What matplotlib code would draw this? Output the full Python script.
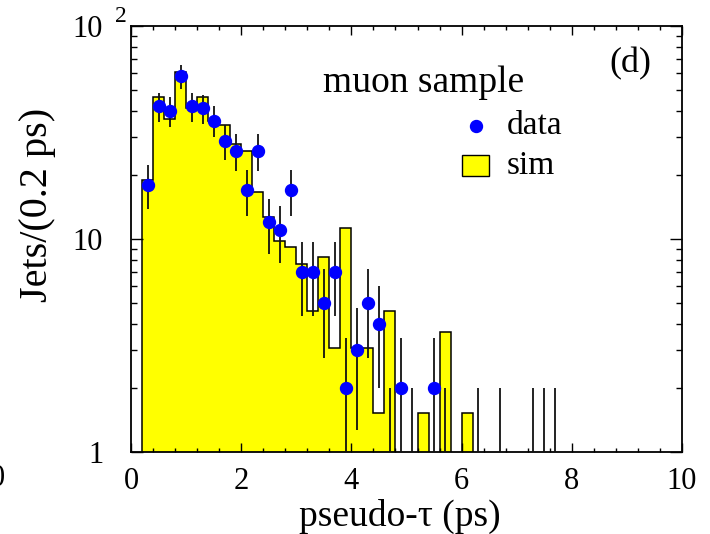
import numpy as np
import matplotlib
matplotlib.use("Agg")
import matplotlib.pyplot as plt
from matplotlib.lines import Line2D
from matplotlib.patches import Rectangle

plt.rcParams['font.family'] = ['Liberation Serif', 'DejaVu Serif']

# simulated histogram: bin edges every 0.2 ps starting at 0.2 ps
sim_edges = np.round(np.arange(0.2, 6.21, 0.2), 2)
sim_counts = [19.0, 46.3, 36.7, 61.0, 41.0, 46.3, 36.0, 34.2, 28.0, 25.8,
              16.6, 12.7, 9.8, 9.2, 7.6, 4.6, 8.2, 3.07, 11.3, 3.07,
              3.07, 1.53, 4.6, 0, 0, 1.53, 0, 3.65, 0, 1.53]

# data points (bin centres, counts)
data_x = [0.3, 0.5, 0.7, 0.9, 1.1, 1.3, 1.5, 1.7, 1.9, 2.1, 2.3, 2.5, 2.7,
          2.9, 3.1, 3.3, 3.5, 3.7, 3.9, 4.1, 4.3, 4.5, 4.7, 4.9, 5.1, 5.5,
          5.7, 6.3, 6.7, 7.3, 7.5, 7.7]
data_n = [18, 42, 40, 58, 42, 41, 36, 29, 26, 17, 26, 12, 11,
          17, 7, 7, 5, 7, 2, 3, 5, 4, 1, 2, 1, 2,
          1, 1, 1, 1, 1, 1]

x_ticks = [0, 2, 4, 6, 8, 10]
y_ticks = [1, 10, 100]
y_ticklabels = ['1', '10', '10']

W, H = 710, 534
fig = plt.figure(figsize=(W / 100, H / 100), dpi=100)


def fx(px):
    return px / W


def fy(py):
    return 1 - py / H


ax = fig.add_axes([fx(131), fy(452), fx(682) - fx(131), fy(26) - fy(452)])
ax.set_yscale('log')
ax.set_xlim(0, 10)
ax.set_ylim(1, 100)

floor = 0.3
vals = np.where(np.array(sim_counts) > 0, sim_counts, floor)
ax.stairs(vals, sim_edges, baseline=floor, fill=True, color='#FFFF00',
          lw=0, zorder=1)
ax.stairs(vals, sim_edges, baseline=floor, fill=False, color='black',
          lw=1.1, zorder=2)

dx = np.array(data_x)
dn = np.array(data_n, dtype=float)
err = np.sqrt(dn)
lo = np.clip(dn - err, 0.3, None)
hi = dn + err
ax.vlines(dx, lo, hi, color='#111111', lw=1.3, zorder=3)
shown = dn > 1
ax.plot(dx[shown], dn[shown], 'o', color='#0000FF', ms=8.6, mec='#0000FF',
        zorder=4, clip_on=True)

ax.set_xticks(x_ticks)
ax.set_xticklabels([str(v) for v in x_ticks])
ax.xaxis.set_minor_locator(matplotlib.ticker.MultipleLocator(0.4))
ax.set_yticks(y_ticks)
ax.set_yticklabels(y_ticklabels)
ax.yaxis.set_minor_locator(matplotlib.ticker.LogLocator(base=10, subs=np.arange(2, 10)))
ax.yaxis.set_minor_formatter(matplotlib.ticker.NullFormatter())
ax.tick_params(axis='x', which='major', direction='in', length=6.5, width=1,
               top=True, labelsize=22, pad=11)
ax.tick_params(axis='x', which='minor', direction='in', length=3.2, width=1,
               top=True)
ax.tick_params(axis='y', which='major', direction='in', length=8.5, width=1,
               right=True, labelsize=22, pad=20)
ax.tick_params(axis='y', which='minor', direction='in', length=4.3, width=1,
               right=True)
ax.set_axisbelow(False)
for s in ax.spines.values():
    s.set_linewidth(1.3)

# exponent of the top y label
fig.text(fx(115), fy(22), '2', fontsize=17, ha='left', va='baseline')
# stray tick label at the left border
fig.text(fx(-3), fy(478), '0', fontsize=22, ha='center', va='center')

fig.text(fx(400), fy(516), 'pseudo-\u03c4 (ps)', fontsize=27, ha='center',
         va='center')
fig.text(fx(38), fy(205), 'Jets/(0.2 ps)', fontsize=29, ha='center',
         va='center', rotation=90)

fig.text(fx(323), fy(92), 'muon sample', fontsize=27, ha='left',
         va='baseline')
fig.text(fx(609), fy(72), '(d)', fontsize=26, ha='left', va='baseline')

fig.add_artist(Line2D([fx(476)], [fy(126)], marker='o', color='#0000FF',
                      ms=8.6, transform=fig.transFigure))
fig.text(fx(507), fy(134), 'data', fontsize=24, ha='left', va='baseline')
fig.add_artist(Rectangle((fx(462), fy(176)), fx(489) - fx(462),
                         fy(155) - fy(176), facecolor='#FFFF00',
                         edgecolor='black', lw=1, transform=fig.transFigure))
fig.text(fx(507), fy(174), 'sim', fontsize=24, ha='left', va='baseline')

fig.savefig('out.png', dpi=100)
